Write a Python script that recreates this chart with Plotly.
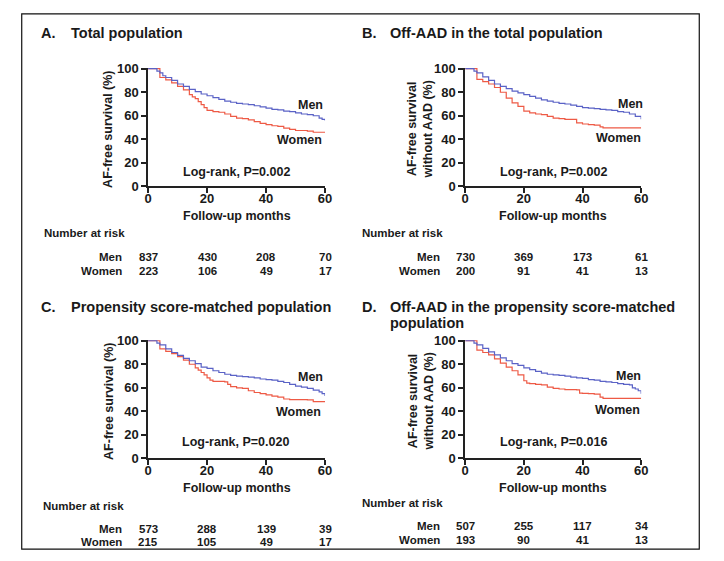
import plotly.graph_objects as go

W, H = 724, 561

# ---------------- data ----------------
panel_letters = ["A.", "B.", "C.", "D."]
panel_titles = ["Total population",
                "Off-AAD in the total population",
                "Propensity score-matched population",
                "Off-AAD in the propensity score-matched<br>population"]
y_titles = ["AF-free survival (%)", "AF-free survival<br>without AAD (%)",
            "AF-free survival (%)", "AF-free survival<br>without AAD (%)"]
pvalues = ["Log-rank, P=0.002", "Log-rank, P=0.002", "Log-rank, P=0.020", "Log-rank, P=0.016"]
groups = ["Men", "Women"]
risk_times = [0, 20, 40, 60]
risk_men = [[837, 430, 208, 70], [730, 369, 173, 61], [573, 288, 139, 39], [507, 255, 117, 34]]
risk_women = [[223, 106, 49, 17], [200, 91, 41, 13], [215, 105, 49, 17], [193, 90, 41, 13]]
x_ticks = [0, 20, 40, 60]
y_ticks = [0, 20, 40, 60, 80, 100]

a_men_t = [0, 3, 4, 5, 6, 8, 10, 12, 14, 16, 18, 20, 22, 24, 26, 28, 30, 32, 34, 36, 38, 40, 42, 44, 46, 48, 50, 52, 54, 56, 58, 59, 60]
a_men_s = [100, 98, 96.5, 94, 92.5, 90, 87, 85, 82.5, 80.5, 78.5, 77, 75.5, 74, 72.5, 71.5, 70.5, 70, 69.5, 68.5, 67.5, 66.5, 65.5, 65, 64, 63.5, 62.5, 61.5, 61, 60, 58, 57, 56]
a_wom_t = [0, 3.5, 4, 6, 8, 10, 12, 14, 15, 16, 17, 18, 19, 20, 22, 24, 26, 28, 30, 32, 34, 36, 38, 40, 42, 44, 46, 48, 50, 52, 54, 56, 58, 60]
a_wom_s = [100, 100, 92.5, 90.5, 88, 85, 82, 78, 76, 74.5, 72, 69.5, 67, 64.5, 63.5, 63, 61.5, 59.5, 58, 57.5, 56.5, 55, 53.5, 52.5, 51.5, 51, 49.5, 48.5, 47.5, 47.5, 47, 46, 46, 46]

b_men_t = [0, 3, 4, 6, 8, 10, 12, 14, 16, 18, 20, 22, 24, 26, 28, 30, 32, 34, 36, 38, 40, 42, 44, 46, 48, 50, 52, 54, 56, 58, 60]
b_men_s = [100, 98, 96.5, 93, 90, 87, 85, 83, 81, 79.5, 78, 76.5, 75, 73.5, 72.5, 71.5, 70.5, 70, 69, 68, 67, 66.5, 66, 65.5, 65, 64.5, 63.5, 63, 61.5, 59.5, 57]
b_wom_t = [0, 3.5, 4, 6, 8, 10, 12, 14, 16, 18, 20, 22, 24, 26, 28, 30, 32, 34, 36, 38, 40, 42, 44, 46, 47, 60]
b_wom_s = [100, 100, 91, 89, 87, 84, 80, 75, 71, 68, 64, 62.5, 61.5, 61, 59.5, 58, 57.5, 57, 57, 54, 53, 52.5, 52, 50.5, 49.7, 49.7]

c_men_t = [0, 3, 4, 6, 8, 10, 12, 14, 16, 18, 20, 22, 24, 26, 28, 30, 32, 34, 36, 38, 40, 42, 44, 46, 48, 50, 52, 54, 56, 58, 59, 60]
c_men_s = [100, 98, 96.5, 93, 90, 87.5, 85, 83, 80.5, 77.5, 76.5, 74.5, 73, 71.5, 70.5, 70, 69.5, 69, 68.5, 67.5, 67, 66.5, 65.5, 64.5, 63, 61.5, 60.5, 59.5, 58, 56.5, 55, 53]
c_wom_t = [0, 3.5, 4, 6, 8, 10, 12, 14, 16, 17, 18, 19, 20, 21, 22, 24, 26, 27, 28, 30, 32, 34, 36, 38, 40, 42, 44, 46, 48, 50, 52, 54, 56, 58, 60]
c_wom_s = [100, 100, 93, 91, 89, 86.5, 83.5, 80, 77, 75, 73, 71, 68.5, 66.5, 65.5, 65.5, 65, 63, 61, 60, 59.5, 57.5, 56, 55, 54, 53, 52, 50.5, 50, 50, 50, 49.7, 48.3, 48.3, 48.3]

d_men_t = [0, 3, 4, 6, 8, 10, 12, 14, 16, 18, 20, 22, 24, 26, 28, 30, 32, 34, 36, 38, 40, 42, 44, 46, 48, 50, 52, 54, 56, 57, 58, 59, 60]
d_men_s = [100, 98, 96.5, 93.5, 90.5, 88, 85.5, 83, 80.5, 79, 77, 75.5, 74, 72.5, 71.5, 71, 70.5, 70, 69, 68.5, 68, 67, 66.5, 65.5, 65, 64.5, 63.5, 63, 62.5, 60, 59, 57.5, 55]
d_wom_t = [0, 3.5, 4, 6, 8, 10, 12, 14, 16, 18, 20, 21, 22, 24, 26, 28, 30, 32, 34, 36, 38, 39, 40, 42, 44, 46, 47, 60]
d_wom_s = [100, 100, 92, 90, 88, 84.5, 81, 77.5, 74.5, 71, 66, 64, 63.5, 63, 62.5, 60.5, 59.5, 59, 58.5, 58.5, 58.3, 55.5, 55.2, 55, 54.7, 52, 51, 51]

men_curves = [(a_men_t, a_men_s), (b_men_t, b_men_s), (c_men_t, c_men_s), (d_men_t, d_men_s)]
women_curves = [(a_wom_t, a_wom_s), (b_wom_t, b_wom_s), (c_wom_t, c_wom_s), (d_wom_t, d_wom_s)]

# ---------------- layout (pixels) ----------------
MEN_C = "#5a62c6"
WOM_C = "#ee5a45"
FONT = "Liberation Sans, Arial, sans-serif"
TXT = "#1a1a1a"

# plot boxes: (left, right, y0px, y100px)
boxes = [(146.3, 326, 185, 64.3), (468.3, 647, 185, 64.3),
         (146.3, 326, 464, 343.3), (468.3, 647, 464, 343.3)]
YMAX = 100.8

def px(x):
    return x / W

def py(y):
    return 1 - y / H

fig = go.Figure()
annotations = []

for i in range(4):
    l, r, y0, y100 = boxes[i]
    ytop = y0 - (y0 - y100) * YMAX / 100
    xa = "xaxis" if i == 0 else f"xaxis{i+1}"
    ya = "yaxis" if i == 0 else f"yaxis{i+1}"
    xr = "x" if i == 0 else f"x{i+1}"
    yr = "y" if i == 0 else f"y{i+1}"
    axcommon = dict(showline=True, linewidth=1.6, linecolor="#222", ticks="outside",
                    ticklen=5, tickwidth=1.6, tickcolor="#222", showgrid=False, zeroline=False,
                    tickfont=dict(family=FONT, size=13, color=TXT, weight="bold"), fixedrange=True)
    fig.update_layout({
        xa: dict(domain=[px(l), px(r)], range=[0, 60], tickvals=x_ticks, anchor=yr,
                 ticklabelstandoff=-6, **axcommon),
        ya: dict(domain=[py(y0), py(ytop)], range=[0, YMAX], tickvals=y_ticks, anchor=xr, **axcommon),
    })
    mt, ms = men_curves[i]
    wt, ws = women_curves[i]
    fig.add_trace(go.Scatter(x=wt, y=ws, mode="lines", line=dict(color=WOM_C, width=1.2, shape="hv"),
                             xaxis=xr, yaxis=yr, showlegend=False, hoverinfo="skip"))
    fig.add_trace(go.Scatter(x=mt, y=ms, mode="lines", line=dict(color=MEN_C, width=1.2, shape="hv"),
                             xaxis=xr, yaxis=yr, showlegend=False, hoverinfo="skip"))

# text helper
def txt(x, y, s, size, xanchor="left", yanchor="middle", angle=0, xref="paper", align="left"):
    annotations.append(dict(x=x if xref != "paper" else px(x), y=py(y), xref=xref, yref="paper",
                            text=s, showarrow=False, xanchor=xanchor, yanchor=yanchor,
                            textangle=angle, align=align, borderpad=0,
                            font=dict(family=FONT, size=size, color=TXT, weight="bold")))

# panel titles (each wrapped line placed on its own row)
title_pos = [(37, 67, 27.5), (362, 391, 27.5), (37, 67, 308.3), (362, 391, 308.3)]
for i in range(4):
    lx, tx, ty = title_pos[i]
    txt(lx, ty, panel_letters[i], 14.5)
    for k, line in enumerate(panel_titles[i].split("<br>")):
        txt(tx, ty + 16.7 * k, line, 14.5)

# y-axis titles
ytitle_x = [106, 422.5, 106, 422.5]
for i in range(4):
    l, r, y0, y100 = boxes[i]
    txt(ytitle_x[i], (y0 + y100) / 2 + 2, y_titles[i], 12.5, xanchor="center", angle=-90, align="center")
    # x-axis title
    txt((l + r) / 2, y0 + 30, "Follow-up months", 12.5, xanchor="center")

# group labels and p-values
men_lab = [(325, 101.7), (650, 100), (325, 380), (648.3, 379.3)]
wom_lab = [(324, 137.3), (648.3, 135.7), (323.3, 416), (647.3, 414)]
p_lab = [(235.7, 170), (557.5, 170), (235.5, 447.3), (557.8, 446.7)]
for i in range(4):
    txt(men_lab[i][0], men_lab[i][1], groups[0], 12.5, xanchor="right")
    txt(wom_lab[i][0], wom_lab[i][1], groups[1], 12.5, xanchor="right")
    txt(p_lab[i][0], p_lab[i][1], pvalues[i], 12.5, xanchor="center")

# number at risk tables
risk_pos = [(39.5, 121, 233.3, 257.7, 271.7), (362.5, 444, 233.3, 257.7, 271.7),
            (39, 121, 512.7, 536, 550), (362.5, 444, 510, 533.3, 547.3)]
for i in range(4):
    hx, lx, hy, my, wy = risk_pos[i]
    xr = "x" if i == 0 else f"x{i+1}"
    txt(hx, hy, "Number at risk", 11.5)
    txt(lx, my, groups[0], 11.5, xanchor="right")
    txt(lx, wy, groups[1], 11.5, xanchor="right")
    for t, nm, nw in zip(risk_times, risk_men[i], risk_women[i]):
        txt(t, my, str(nm), 11.5, xanchor="center", xref=xr)
        txt(t, wy, str(nw), 11.5, xanchor="center", xref=xr)

fig.update_layout(
    width=W, height=H, margin=dict(l=0, r=0, t=0, b=0),
    paper_bgcolor="white", plot_bgcolor="white",
    annotations=annotations,
    shapes=[dict(type="rect", xref="paper", yref="paper", x0=px(18), x1=px(706), y0=py(557), y1=py(8),
                 line=dict(color="#111", width=1.2))],
)

fig.write_html("out.html")
